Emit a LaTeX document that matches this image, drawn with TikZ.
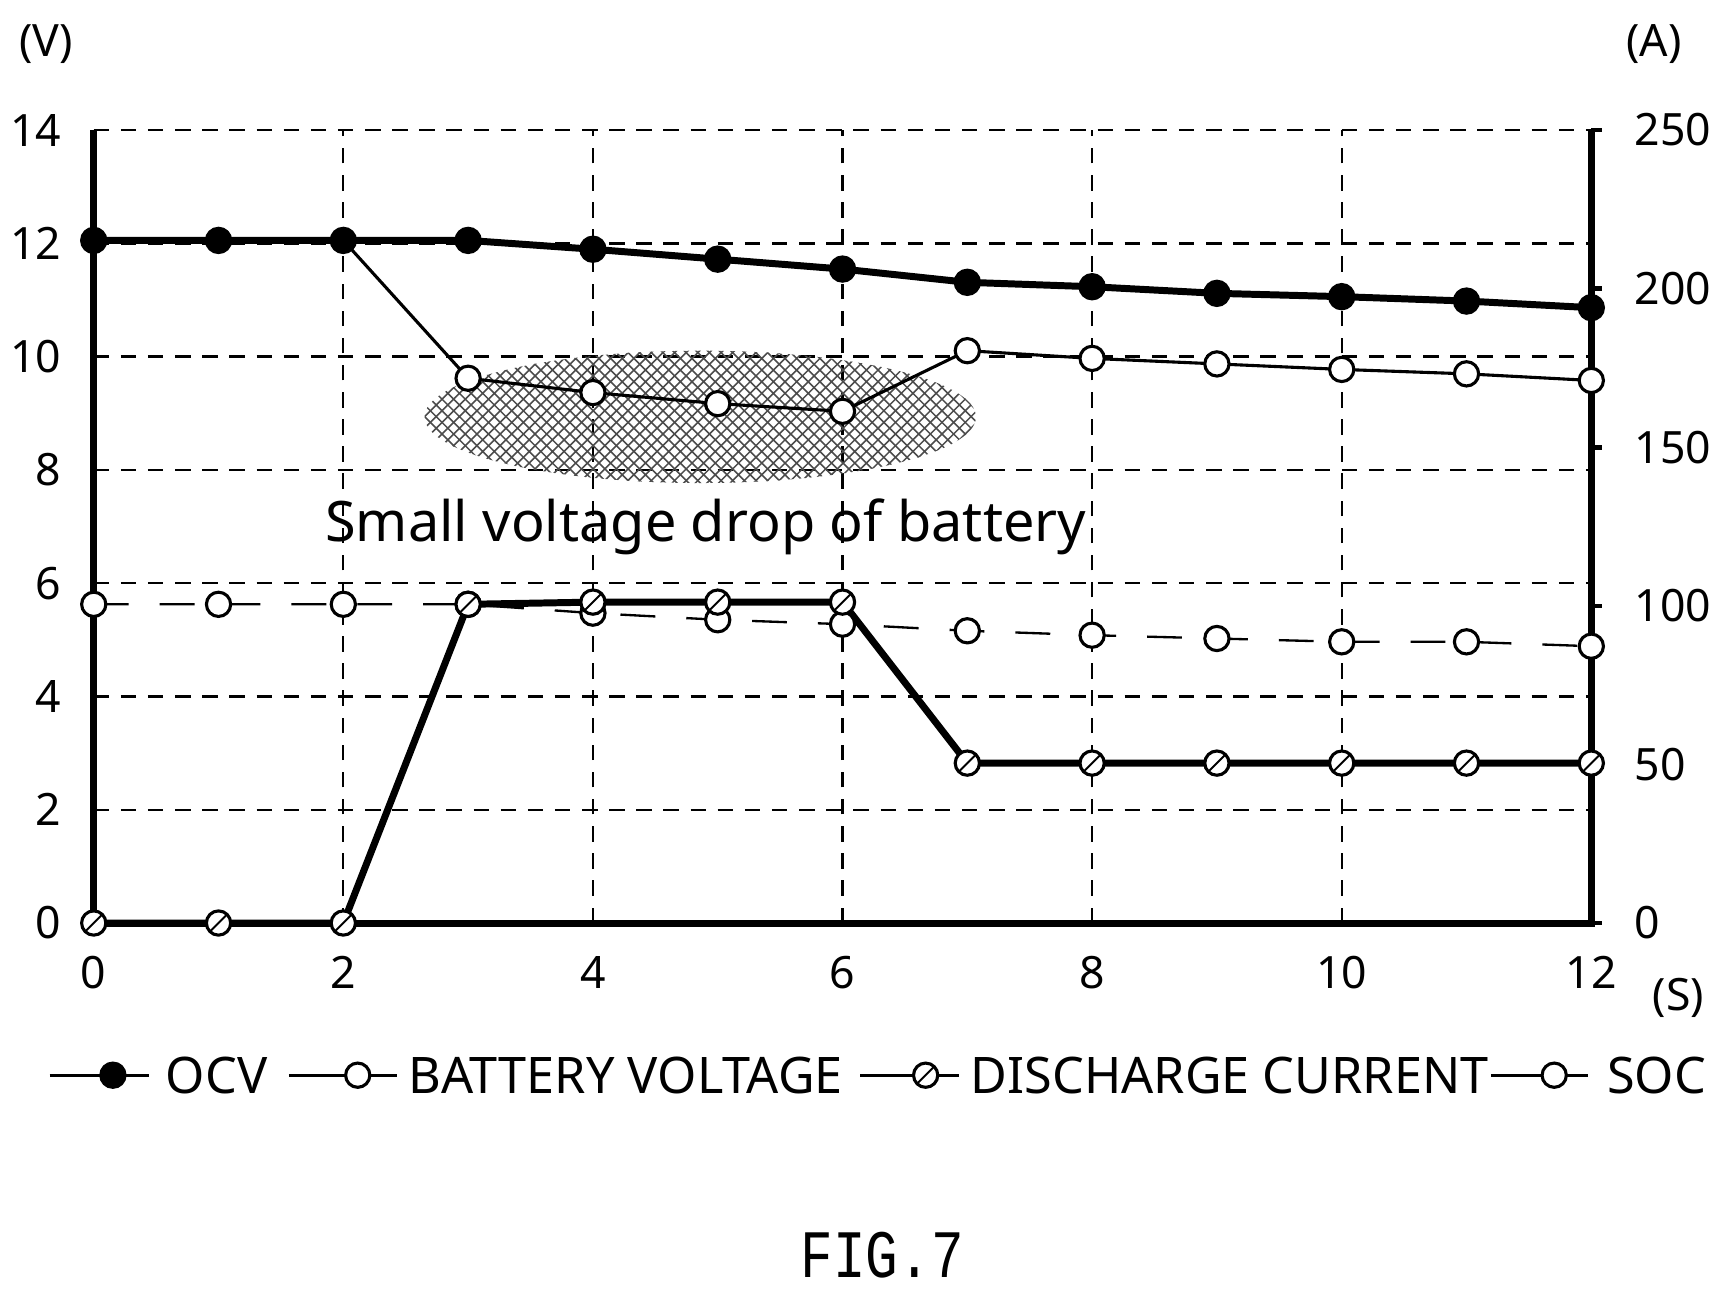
\documentclass[tikz,border=0pt]{standalone}
\usepackage{fontspec}
\setmainfont{Noto Sans}
\newfontfamily\figfont{Liberation Mono}
\usetikzlibrary{patterns}
\tikzset{
  grid line/.style={dashed,line width=0.6pt,dash pattern=on 4pt off 3pt},
  axis line/.style={line width=1.8pt},
  full mark/.style={circle,draw,fill=black,minimum size=0.22cm,inner sep=0pt,line width=0.8pt},
  open mark/.style={circle,draw,fill=white,minimum size=0.22cm,inner sep=0pt,line width=0.8pt},
  slash mark/.style={open mark,path picture={\draw[line width=0.5pt] (path picture bounding box.south west) -- (path picture bounding box.north east);}},
  tick label/.style={font=\fontsize{11.5}{12}\selectfont}
}
\begin{document}
\begin{tikzpicture}[x=1cm,y=1cm]
  \useasboundingbox (0,0) rectangle (15.67,-11.74);
  % grid
  \foreach \v in {2,4,...,12}
    \draw[grid line] (0.85,-8.37+0.5136*\v) -- (14.43,-8.37+0.5136*\v);
  \draw[grid line] (0.85,-1.18) -- (14.43,-1.18);
  \foreach \t in {2,4,...,10}
    \draw[grid line] (0.85+1.1317*\t,-8.37) -- (0.85+1.1317*\t,-1.18);
  % axes
  \draw[axis line] (0.85,-1.18) -- (0.85,-8.37) -- (14.43,-8.37) -- (14.43,-1.18);
  \foreach \v in {0,2,...,14}
    \node[tick label,anchor=east] (vl\v) at (0.68,-8.37+0.5136*\v) {\v};
  \foreach \a in {0,50,...,250} {
    \draw[line width=1.2pt] (14.43,-8.37+0.02876*\a) -- (14.53,-8.37+0.02876*\a);
    \node[tick label,anchor=west] (al\a) at (14.7,-8.37+0.02876*\a) {\a};
  }
  \foreach \t in {0,2,...,12}
    \node[tick label] (tl\t) at (0.85+1.1317*\t,-8.82) {\t};
  \node[tick label] (vunit) at (0.42,-0.40) {(V)};
  \node[tick label] (aunit) at (15.0,-0.40) {(A)};
  \node[tick label] (sunit) at (15.22,-9.05) {(S)};
  % hatched area
  \draw[draw=none,pattern=crosshatch,pattern color=black!70] (6.35,-3.78) ellipse (2.5 and 0.6);
  \node[font=\fontsize{14.4}{15}\selectfont] (droplabel) at (6.4,-4.78) {Small voltage drop of battery};
  % data
  \foreach \t/\o/\b/\d/\s in {0/218/218/837/548,1/218/218/837/548,2/218/218/837/548,
      3/218/343/548/548,4/226/356/546/556,5/235/366/546/562,6/244/373/546/566,
      7/256/318/692/572,8/260/325/692/576,9/266/330/692/579,10/269/335/692/582,
      11/273/339/692/582,12/279/345/692/586} {
    \coordinate (ocv\t) at (0.85+1.1317*\t,-\o/100);
    \coordinate (bat\t) at (0.85+1.1317*\t,-\b/100);
    \coordinate (cur\t) at (0.85+1.1317*\t,-\d/100);
    \coordinate (soc\t) at (0.85+1.1317*\t,-\s/100);
  }
  \draw[line width=0.6pt,dash pattern=on 9pt off 8pt] (soc0) \foreach \t in {1,...,12} {-- (soc\t)};
  \draw[line width=0.8pt] (bat2) \foreach \t in {3,...,12} {-- (bat\t)};
  \draw[line width=1.8pt] (cur0) \foreach \t in {1,...,12} {-- (cur\t)};
  \draw[line width=1.8pt] (ocv0) \foreach \t in {1,...,12} {-- (ocv\t)};
  \foreach \t in {0,1,2,3,4,5,6,7,8,9,10,11,12} {
    \node[open mark] (s\t) at (soc\t) {};
    \node[slash mark] (c\t) at (cur\t) {};
  }
  \foreach \t in {3,...,12}
    \node[open mark] (b\t) at (bat\t) {};
  \foreach \t in {0,...,12}
    \node[full mark] (o\t) at (ocv\t) {};
  % legend
  \begin{scope}[every node/.style={font=\fontsize{13}{13}\selectfont,anchor=west}]
    \coordinate (la1) at (0.45,-9.75); \coordinate (lb1) at (1.35,-9.75);
    \draw[line width=0.8pt] (la1) -- (lb1);
    \node[full mark] (lm1) at (0.9,-9.75) {};
    \node (lt1) at (1.38,-9.75) {OCV};
    \coordinate (la2) at (2.62,-9.75); \coordinate (lb2) at (3.6,-9.75);
    \draw[line width=0.8pt] (la2) -- (lb2);
    \node[open mark] (lm2) at (3.12,-9.75) {};
    \node (lt2) at (3.58,-9.75) {BATTERY VOLTAGE};
    \coordinate (la3) at (7.8,-9.75); \coordinate (lb3) at (8.7,-9.75);
    \draw[line width=0.8pt] (la3) -- (lb3);
    \node[slash mark] (lm3) at (8.27,-9.75) {};
    \node (lt3) at (8.68,-9.75) {DISCHARGE CURRENT};
    \coordinate (la4) at (13.52,-9.75); \coordinate (lb4) at (14.4,-9.75);
    \draw[line width=0.8pt] (la4) -- (lb4);
    \node[open mark] (lm4) at (13.97,-9.75) {};
    \node (lt4) at (14.45,-9.75) {SOC};
  \end{scope}
  \node[font=\figfont\fontsize{14}{14}\selectfont,yscale=1.25] (fig) at (8.0,-11.38) {FIG.7};
\end{tikzpicture}
\end{document}
